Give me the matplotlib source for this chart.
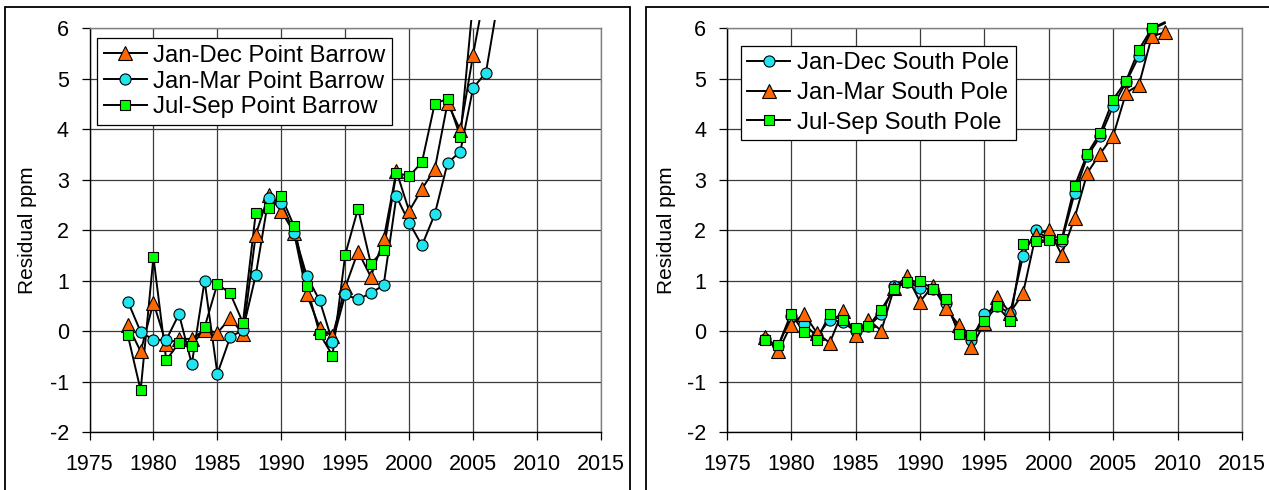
#!/usr/bin/env python3

import matplotlib
matplotlib.use('Agg')
import matplotlib.pyplot as plt
import numpy as np
from matplotlib.lines import Line2D
from matplotlib.patches import Rectangle
from matplotlib.transforms import Bbox, TransformedBbox

plt.rcParams['font.family'] = ['Liberation Sans', 'DejaVu Sans']
plt.rcParams['axes.unicode_minus'] = False

# residuals, Point Barrow (from 1978)
barrow_years = np.arange(1978, 2008)
barrow_jan_dec = [0.12, -0.40, 0.57, -0.25, -0.15, -0.15, 0.03, -0.03, 0.26, -0.05,
                  1.91, 2.70, 2.38, 1.95, 0.73, 0.07, -0.10, 0.87, 1.58, 1.08,
                  1.82, 3.17, 2.38, 2.82, 3.21, 4.52, 3.98, 5.48, 6.84]
barrow_jan_mar = [0.59, -0.01, -0.17, -0.17, 0.34, -0.65, 1.00, -0.84, -0.12, 0.03,
                  1.11, 2.63, 2.55, 1.95, 1.09, 0.61, -0.21, 0.73, 0.63, 0.76,
                  0.91, 2.67, 2.15, 1.70, 2.32, 3.33, 3.56, 4.82, 5.12, 6.62]
barrow_jul_sep = [-0.08, -1.17, 1.47, -0.57, -0.23, -0.30, 0.08, 0.94, 0.75, 0.17,
                  2.34, 2.44, 2.67, 2.08, 0.89, -0.05, -0.48, 1.52, 2.43, 1.34,
                  1.60, 3.14, 3.07, 3.35, 4.51, 4.60, 3.85, 6.55]

# residuals, South Pole (from 1978)
pole_years = np.arange(1978, 2010)
pole_jan_dec = [-0.15, -0.30, 0.31, 0.15, -0.10, 0.23, 0.18, 0.00, 0.10, 0.34,
                0.89, 0.98, 0.86, 0.83, 0.56, 0.00, -0.17, 0.34, 0.50, 0.36,
                1.49, 2.00, 1.82, 1.78, 2.73, 3.47, 3.86, 4.46, 4.93, 5.45,
                5.98, 6.10]
pole_jan_mar = [-0.12, -0.40, 0.13, 0.35, -0.03, -0.23, 0.40, -0.08, 0.23, 0.01,
                0.86, 1.09, 0.59, 0.89, 0.46, 0.13, -0.32, 0.16, 0.68, 0.37,
                0.75, 1.91, 2.01, 1.52, 2.24, 3.14, 3.52, 3.87, 4.72, 4.88,
                5.84, 5.92]
pole_jul_sep = [-0.17, -0.28, 0.35, -0.02, -0.18, 0.35, 0.22, 0.07, 0.10, 0.43,
                0.84, 0.98, 1.00, 0.84, 0.63, -0.05, -0.07, 0.20, 0.50, 0.20,
                1.73, 1.78, 1.80, 1.82, 2.87, 3.52, 3.93, 4.59, 4.96, 5.58,
                6.00, 6.12]

xticks = np.arange(1975, 2016, 5)
yticks = np.arange(-2, 7, 1)

ORANGE = '#FF6600'
CYAN = '#22E4EE'
GREEN = '#00FF00'
TRI = dict(marker='^', mfc=ORANGE, ms=9.6)
CIRC = dict(marker='o', mfc=CYAN, ms=8.0)
SQR = dict(marker='s', mfc=GREEN, ms=6.6)

W, H = 1269, 490
fig = plt.figure(figsize=(W / 100, H / 100), dpi=100)

# chart frames
fig.add_artist(Rectangle((5 / W, -0.1), 625 / W, 1.1 - 7 / H, transform=fig.transFigure,
                         fill=False, ec='black', lw=1.3))
fig.add_artist(Rectangle((646 / W, -0.1), 640 / W, 1.1 - 7 / H, transform=fig.transFigure,
                         fill=False, ec='black', lw=1.3))

ax1 = fig.add_axes([89.5 / W, 57.7 / H, 511.5 / W, 404 / H])
ax2 = fig.add_axes([726.7 / W, 57.7 / H, 515.3 / W, 404 / H])


def draw_series(ax, years, vals, style, label):
    x = years[:len(vals)]
    v = np.asarray(vals, float)
    clip = TransformedBbox(Bbox.from_extents(1975, -2.05, 2015, 6.17), ax.transData)
    ln, = ax.plot(x, v, color='black', lw=1.4, zorder=3)
    ln.set_clip_box(clip)
    mk, = ax.plot(x, np.ma.masked_greater(v, 6.0), ls='none', mec='black', mew=0.8,
                  zorder=4, **style)
    mk.set_clip_box(clip)
    return Line2D([], [], color='black', lw=1.4, mec='black', mew=0.8, label=label, **style)


def setup(ax, label_x):
    ax.set_xlim(1975, 2015)
    ax.set_ylim(-2, 6)
    ax.set_xticks(xticks)
    ax.set_yticks(yticks)
    ax.grid(True, color='#3c3c3c', lw=0.9, zorder=0)
    ax.set_axisbelow(True)
    ax.tick_params(axis='both', labelsize=15.5, length=5.8, width=0.9, color='black')
    ax.tick_params(axis='y', pad=9)
    ax.tick_params(axis='x', pad=10)
    for s in ['left', 'bottom']:
        ax.spines[s].set_color('black')
        ax.spines[s].set_linewidth(1.0)
    for s in ['top', 'right']:
        ax.spines[s].set_color('#808080')
        ax.spines[s].set_linewidth(1.0)
    ax.set_ylabel('Residual ppm', fontsize=15, va='center')
    ax.yaxis.set_label_coords(label_x, 0.5)


setup(ax1, -0.122)
setup(ax2, -0.1164)

h1 = [draw_series(ax1, barrow_years, barrow_jan_dec, TRI, 'Jan-Dec Point Barrow'),
      draw_series(ax1, barrow_years, barrow_jan_mar, CIRC, 'Jan-Mar Point Barrow'),
      draw_series(ax1, barrow_years, barrow_jul_sep, SQR, 'Jul-Sep Point Barrow')]
h2 = [draw_series(ax2, pole_years, pole_jan_dec, CIRC, 'Jan-Dec South Pole'),
      draw_series(ax2, pole_years, pole_jan_mar, TRI, 'Jan-Mar South Pole'),
      draw_series(ax2, pole_years, pole_jul_sep, SQR, 'Jul-Sep South Pole')]

for ax, h, anchor, spacing in [(ax1, h1, (0.0147, 0.976), 0.16),
                               (ax2, h2, (0.0272, 0.957), 0.32)]:
    leg = ax.legend(handles=h, loc='upper left', bbox_to_anchor=anchor, borderaxespad=0,
                    fontsize=17.2, frameon=True, fancybox=False, shadow=False,
                    edgecolor='black', framealpha=1, handlelength=1.8,
                    handletextpad=0.28, borderpad=0.28, labelspacing=spacing)
    leg.get_frame().set_linewidth(0.9)
    leg.set_zorder(6)

plt.savefig('out.png', dpi=100)
